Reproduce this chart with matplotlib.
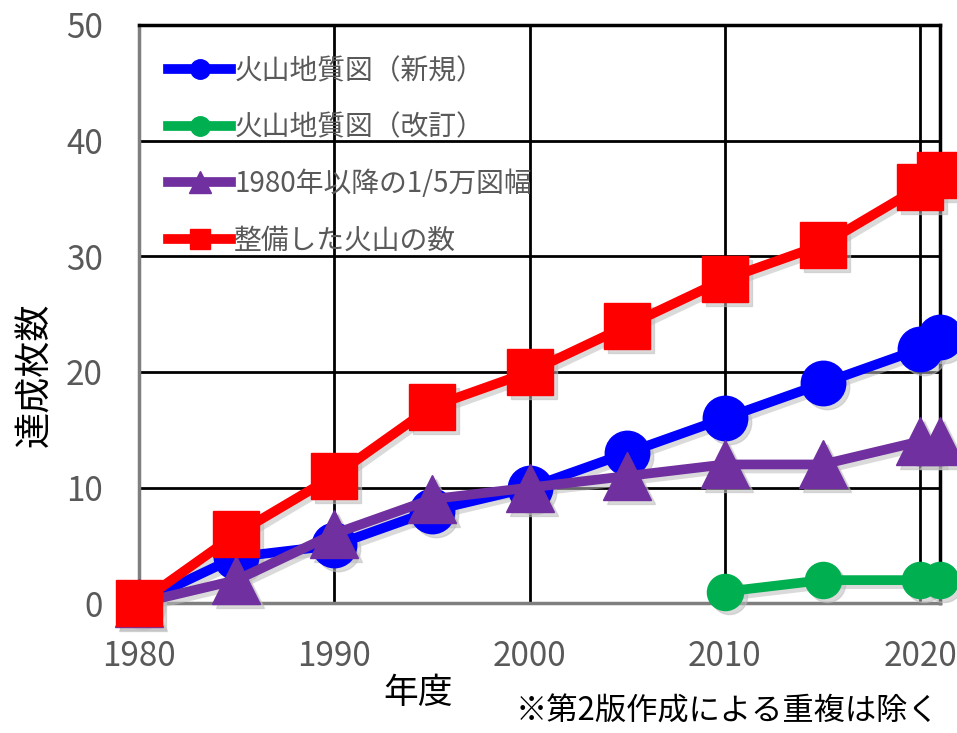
import matplotlib
matplotlib.use("Agg")
import matplotlib.pyplot as plt
import matplotlib.transforms as mtrans
from matplotlib.lines import Line2D

plt.rcParams['font.family'] = ['Noto Sans CJK JP', 'DejaVu Sans']

years = [1980, 1985, 1990, 1995, 2000, 2005, 2010, 2015, 2020, 2021]
new_maps = [0, 4, 5, 8, 10, 13, 16, 19, 22, 23]
rev_years = [2010, 2015, 2020, 2021]
rev_maps = [1, 2, 2, 2]
sheets_1_5 = [0, 2, 6, 9, 10, 11, 12, 12, 14, 14]
volcanoes = [0, 6, 11, 17, 20, 24, 28, 31, 36, 37]

labels = ['火山地質図（新規）', '火山地質図（改訂）', '1980年以降の1/5万図幅', '整備した火山の数']
colors = ['#0000FF', '#00B050', '#7030A0', '#FF0000']
xticks = [1980, 1990, 2000, 2010, 2020]
yticks = [0, 10, 20, 30, 40, 50]

fig = plt.figure(figsize=(9.57, 7.33), dpi=100)
ax = fig.add_axes([0.145, 0.177, 0.837, 0.789])

shadow_tr = mtrans.offset_copy(ax.transData, fig=fig, x=4, y=-4, units='dots')

series = [
    (years, new_maps, 'o', 32, colors[0], labels[0]),
    (rev_years, rev_maps, 'o', 26, colors[1], labels[1]),
    (years, sheets_1_5, '^', 34, colors[2], labels[2]),
    (years, volcanoes, 's', 33, colors[3], labels[3]),
]
for i, (xs, ys, m, ms, c, lab) in enumerate(series):
    ax.plot(xs, ys, marker=m, markersize=ms, color='#bdbdbd', lw=7,
            clip_on=False, zorder=4, transform=shadow_tr, alpha=0.55)
    ax.plot(xs, ys, marker=m, markersize=ms, color=c, lw=7,
            label=lab, clip_on=False, zorder=5 + i)

ax.set_xlim(1980, 2021)
ax.set_ylim(0, 50)
ax.set_xticks(xticks)
ax.set_yticks(yticks)
ax.grid(True, color='black', lw=2, zorder=1)
ax.set_axisbelow(True)
ax.tick_params(length=0, labelsize=24, labelcolor='#595959', pad=26)
for s in ['left', 'bottom']:
    ax.spines[s].set_color('#7f7f7f')
    ax.spines[s].set_linewidth(2.5)
for s in ['top', 'right']:
    ax.spines[s].set_color('black')
    ax.spines[s].set_linewidth(2.5)

fig.text(35 / 957, 1 - 375 / 733, '達成枚数', fontsize=26, rotation=90,
         ha='center', va='center', color='black')
fig.text(418 / 957, 1 - 693 / 733, '年度', fontsize=25,
         ha='center', va='center', color='black')
fig.text(516 / 957, 1 - 712 / 733, '※第2版作成による重複は除く', fontsize=22.5,
         ha='left', va='center', color='black')

leg_handles = [
    Line2D([], [], color=colors[0], marker='o', markersize=14, lw=7),
    Line2D([], [], color=colors[1], marker='o', markersize=14, lw=7),
    Line2D([], [], color=colors[2], marker='^', markersize=16, lw=7),
    Line2D([], [], color=colors[3], marker='s', markersize=15, lw=7),
]
leg = ax.legend(leg_handles, labels, loc='upper left', frameon=False,
                fontsize=20, handlelength=2.3, handletextpad=0.1,
                labelspacing=0.95, borderaxespad=0.0, borderpad=0.0,
                bbox_to_anchor=(0.036, 0.946))
for t in leg.get_texts():
    t.set_color('#595959')

fig.savefig('out.png', dpi=100)
